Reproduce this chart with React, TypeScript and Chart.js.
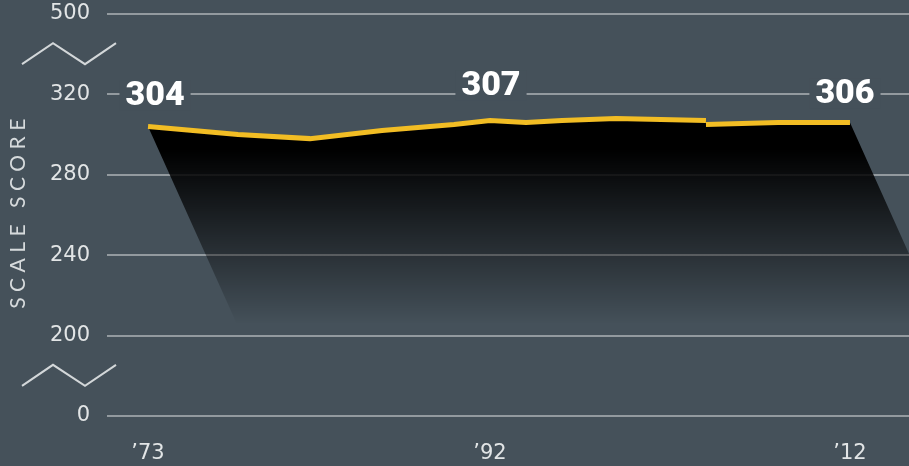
import { useEffect, useRef } from 'react';
import { Chart, registerables } from 'chart.js';

Chart.register(...registerables);

// ---- data ----
const originalYears = [1973, 1978, 1982, 1986, 1990, 1992, 1994, 1996, 1999, 2004];
const originalScores = [304, 300, 298, 302, 305, 307, 306, 307, 308, 307];
const revisedYears = [2004, 2008, 2012];
const revisedScores = [305, 306, 306];

const xTickYears = [1973, 1992, 2012];
const xTickLabels = ['\u201973', '\u201992', '\u201912'];
const yTickValues = [160, 200, 240, 280, 320, 360];
const yTickLabels = ['0', '200', '240', '280', '320', '500'];
const yBreakValues = [180, 340];
const yTitle = 'SCALE SCORE';
// callouts: [dataset, index]
const callouts: [number, number][] = [
  [0, 0],
  [0, 5],
  [1, 2],
];

// ---- style ----
const BG = '#45515a';
const LINE = '#f2bd24';
const GRID = 'rgba(255,255,255,0.42)';
const TICK = '#e2e5e6';
const SKEW = 0.45;
const FONT = 'Lato, "Open Sans", sans-serif';
const TICK_FONT = '"DejaVu Sans", Lato, sans-serif';
const calloutOffsets: [number, number][] = [
  [7, -31],
  [1, -35],
  [-5, -29],
];

const shadowPlugin = {
  id: 'shadowFill',
  beforeDatasetsDraw(chart: any) {
    const ctx = chart.ctx;
    const y = chart.scales.y;
    const pts: any[] = [];
    chart.data.datasets.forEach((_: any, i: number) => {
      chart.getDatasetMeta(i).data.forEach((p: any) => pts.push(p));
    });
    if (!pts.length) return;
    const first = pts[0];
    const last = pts[pts.length - 1];
    const H = 260;
    const g = ctx.createLinearGradient(0, y.getPixelForValue(293), 0, y.getPixelForValue(206));
    g.addColorStop(0, 'rgba(0,0,0,1)');
    g.addColorStop(1, 'rgba(0,0,0,0)');
    ctx.save();
    ctx.beginPath();
    ctx.moveTo(first.x, first.y);
    pts.forEach((p) => ctx.lineTo(p.x, p.y));
    ctx.lineTo(last.x + SKEW * H, last.y + H);
    ctx.lineTo(first.x + SKEW * H, first.y + H);
    ctx.closePath();
    ctx.fillStyle = g;
    ctx.fill();
    ctx.restore();
  },
};

const decorPlugin = {
  id: 'decor',
  afterDraw(chart: any) {
    const ctx = chart.ctx;
    const y = chart.scales.y;
    // axis breaks
    ctx.save();
    ctx.strokeStyle = '#d3d7d9';
    ctx.lineWidth = 2;
    ctx.lineJoin = 'miter';
    yBreakValues.forEach((v) => {
      const cy = y.getPixelForValue(v);
      ctx.beginPath();
      ctx.moveTo(22, cy + 10);
      ctx.lineTo(53, cy - 11);
      ctx.lineTo(85, cy + 10);
      ctx.lineTo(116, cy - 11);
      ctx.stroke();
    });
    ctx.restore();

    // y title
    ctx.save();
    ctx.translate(18, 214);
    ctx.rotate(-Math.PI / 2);
    ctx.font = '400 21px ' + FONT;
    (ctx as any).letterSpacing = '5.5px';
    ctx.fillStyle = '#d6dadc';
    ctx.textAlign = 'center';
    ctx.textBaseline = 'middle';
    ctx.fillText(yTitle, 3, 0);
    ctx.restore();

    // callouts
    ctx.save();
    ctx.font = '900 34px Roboto, Lato, sans-serif';
    ctx.textAlign = 'center';
    ctx.textBaseline = 'middle';
    callouts.forEach(([ds, idx], k) => {
      const el = chart.getDatasetMeta(ds).data[idx];
      const val = chart.data.datasets[ds].data[idx].y;
      const text = String(val);
      const [ox, oy] = calloutOffsets[k];
      const cx = el.x + ox;
      const cy = el.y + oy;
      const w = ctx.measureText(text).width;
      ctx.fillStyle = BG;
      ctx.fillRect(cx - w / 2 - 6, cy - 15, w + 12, 30);
      ctx.fillStyle = '#ffffff';
      ctx.fillText(text, cx, cy + 1);
    });
    ctx.restore();
  },
};

export default function App() {
  const ref = useRef<HTMLCanvasElement | null>(null);

  useEffect(() => {
    document.body.style.margin = '0';
    const canvas = ref.current;
    if (!canvas) return;
    const lineStyle = {
      borderColor: LINE,
      borderWidth: 5,
      borderCapStyle: 'butt' as const,
      borderJoinStyle: 'miter' as const,
      pointRadius: 0,
      tension: 0,
      fill: false,
    };
    const chart = new Chart(canvas, {
      type: 'line',
      data: {
        datasets: [
          { ...lineStyle, data: originalYears.map((x, i) => ({ x, y: originalScores[i] })) },
          { ...lineStyle, data: revisedYears.map((x, i) => ({ x, y: revisedScores[i] })) },
        ],
      },
      options: {
        responsive: false,
        animation: false,
        layout: { padding: { top: 14, right: 0, left: 0, bottom: 0 } },
        plugins: { legend: { display: false }, tooltip: { enabled: false } },
        scales: {
          x: {
            type: 'linear',
            min: 1970.72,
            max: 2015.28,
            grid: { display: false },
            border: { display: false },
            afterBuildTicks: (s: any) => {
              s.ticks = xTickYears.map((v) => ({ value: v }));
            },
            afterFit: (s: any) => {
              s.height = 50;
              s.paddingLeft = 0;
              s.paddingRight = 0;
            },
            ticks: {
              autoSkip: false,
              maxRotation: 0,
              padding: 17,
              color: TICK,
              font: { family: TICK_FONT, size: 21, weight: 400 as any },
              callback: (v: any) => xTickLabels[xTickYears.indexOf(Number(v))] ?? '',
            },
          },
          y: {
            type: 'linear',
            min: 160,
            max: 360,
            z: 1,
            grid: { color: GRID, lineWidth: 2, drawTicks: false },
            border: { display: false },
            afterBuildTicks: (s: any) => {
              s.ticks = yTickValues.map((v) => ({ value: v }));
            },
            afterFit: (s: any) => {
              s.width = 107;
              s.paddingTop = 0;
              s.paddingBottom = 0;
            },
            ticks: {
              padding: 17,
              color: TICK,
              font: { family: TICK_FONT, size: 21, weight: 400 as any },
              callback: (v: any) => yTickLabels[yTickValues.indexOf(Number(v))] ?? '',
            },
          },
        },
      },
      plugins: [shadowPlugin, decorPlugin],
    });
    return () => chart.destroy();
  }, []);

  return (
    <div style={{ width: 909, height: 466, background: BG, overflow: 'hidden' }}>
      <canvas ref={ref} width={909} height={466} style={{ display: 'block' }} />
    </div>
  );
}
